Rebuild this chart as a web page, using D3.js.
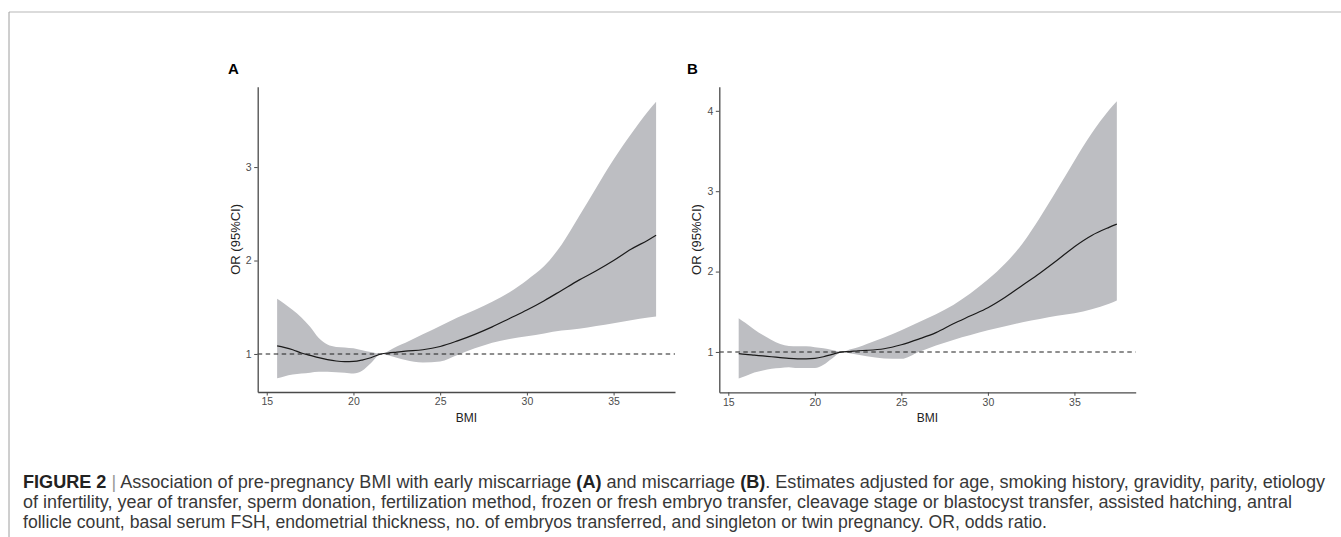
<!DOCTYPE html>
<html lang="en">
<head>
    <meta charset="UTF-8">
    <title>BMI and miscarriage - restricted cubic spline</title>
    <script src="https://d3js.org/d3.v7.min.js"></script>
    <style>
        body {
            margin: 0;
            background: #fff;
            font-family: 'Liberation Sans', Arial, sans-serif;
        }
        .tick text {
            font-size: 10.5px;
            fill: #4d4d4d;
        }
        .tick line, .domain {
            stroke: #4a4a4a;
        }
        .domain {
            stroke-width: 1.3;
        }
        .caption {
            font-size: 17.5px;
            fill: #383838;
        }
    </style>
</head>
<body>
    <div id="chart"></div>

    <script>
        // BMI grid the spline estimates were read at
        const bmi = [15.6, 16, 16.5, 17, 17.5, 18, 18.5, 19, 19.5, 20, 20.5, 21, 21.6, 22, 22.5, 23,
                     24, 25, 26, 27, 28, 29, 30, 31, 32, 33, 34, 35, 36, 37, 37.45];

        // Panel A: early miscarriage
        const orA  = [1.086, 1.07, 1.045, 1.01, 0.985, 0.96, 0.94, 0.925, 0.918, 0.92, 0.935, 0.96, 1.0, 1.01, 1.02, 1.03,
                      1.045, 1.08, 1.14, 1.21, 1.29, 1.38, 1.47, 1.57, 1.68, 1.79, 1.89, 2.0, 2.12, 2.22, 2.27];
        const lowA = [0.74, 0.76, 0.78, 0.79, 0.80, 0.81, 0.81, 0.805, 0.80, 0.79, 0.82, 0.90, 1.0, 0.985, 0.96, 0.935,
                      0.91, 0.92, 0.99, 1.06, 1.12, 1.16, 1.19, 1.22, 1.25, 1.27, 1.30, 1.33, 1.36, 1.39, 1.40];
        const upA  = [1.59, 1.54, 1.47, 1.39, 1.29, 1.17, 1.10, 1.075, 1.07, 1.06, 1.04, 1.02, 1.0, 1.03, 1.08, 1.12,
                      1.21, 1.30, 1.39, 1.47, 1.56, 1.66, 1.79, 1.94, 2.17, 2.47, 2.78, 3.08, 3.35, 3.60, 3.70];

        // Panel B: miscarriage
        const orB  = [0.98, 0.97, 0.96, 0.95, 0.94, 0.93, 0.92, 0.915, 0.915, 0.92, 0.94, 0.97, 1.0, 1.005, 1.015, 1.02,
                      1.04, 1.09, 1.16, 1.24, 1.35, 1.45, 1.55, 1.68, 1.83, 1.98, 2.14, 2.31, 2.45, 2.55, 2.59];
        const lowB = [0.67, 0.70, 0.745, 0.77, 0.79, 0.80, 0.81, 0.80, 0.80, 0.80, 0.84, 0.92, 1.0, 0.985, 0.965, 0.945,
                      0.92, 0.915, 1.0, 1.08, 1.15, 1.21, 1.27, 1.32, 1.37, 1.41, 1.45, 1.48, 1.53, 1.60, 1.64];
        const upB  = [1.42, 1.36, 1.28, 1.21, 1.15, 1.10, 1.075, 1.07, 1.07, 1.06, 1.045, 1.025, 1.0, 1.03, 1.06, 1.10,
                      1.18, 1.27, 1.37, 1.47, 1.585, 1.73, 1.90, 2.10, 2.35, 2.67, 3.02, 3.38, 3.72, 4.01, 4.12];

        const xTicks = [15, 20, 25, 30, 35];
        const yTicksA = [1, 2, 3];
        const yTicksB = [1, 2, 3, 4];

        const captionLines = [
            [["FIGURE 2", "b"], [" | ", "sep"], ["Association of pre-pregnancy BMI with early miscarriage ", ""], ["(A)", "b"],
             [" and miscarriage ", ""], ["(B)", "b"], [". Estimates adjusted for age, smoking history, gravidity, parity, etiology", ""]],
            [["of infertility, year of transfer, sperm donation, fertilization method, frozen or fresh embryo transfer, cleavage stage or blastocyst transfer, assisted hatching, antral", ""]],
            [["follicle count, basal serum FSH, endometrial thickness, no. of embryos transferred, and singleton or twin pregnancy. OR, odds ratio.", ""]]
        ];

        const W = 1341, H = 537;
        const svg = d3.select("#chart").append("svg")
            .attr("width", W)
            .attr("height", H);

        // page frame
        svg.append("line")
            .attr("x1", 9).attr("x2", W).attr("y1", 12).attr("y2", 12)
            .attr("stroke", "#cfcfcf").attr("stroke-width", 1.5);
        svg.append("line")
            .attr("x1", 9).attr("x2", 9).attr("y1", 12).attr("y2", H)
            .attr("stroke", "#9e9e9e").attr("stroke-width", 1);

        const panels = [
            { label: "A", labelX: 228, left: 257.7, right: 675, top: 86.7, bottom: 392,
              yDomain: [0.593, 3.86], yTicks: yTicksA, or: orA, lo: lowA, hi: upA },
            { label: "B", labelX: 687, left: 719.3, right: 1135.7, top: 86.7, bottom: 392.3,
              yDomain: [0.498, 4.30], yTicks: yTicksB, or: orB, lo: lowB, hi: upB }
        ];

        panels.forEach(p => {
            const x = d3.scaleLinear().domain([14.48, 38.54]).range([p.left, p.right]);
            const y = d3.scaleLinear().domain(p.yDomain).range([p.bottom, p.top]);
            const rows = bmi.map((b, i) => ({ b: b, or: p.or[i], lo: p.lo[i], hi: p.hi[i] }));
            const g = svg.append("g");

            g.append("path")
                .datum(rows)
                .attr("fill", "#bdbec2")
                .attr("d", d3.area()
                    .x(d => x(d.b))
                    .y0(d => y(d.lo))
                    .y1(d => y(d.hi))
                    .curve(d3.curveMonotoneX));

            g.append("path")
                .datum(rows)
                .attr("fill", "none")
                .attr("stroke", "#1a1a1a")
                .attr("stroke-width", 1.2)
                .attr("d", d3.line()
                    .x(d => x(d.b))
                    .y(d => y(d.or))
                    .curve(d3.curveMonotoneX));

            // reference line at OR = 1
            g.append("line")
                .attr("x1", p.left).attr("x2", p.right)
                .attr("y1", y(1)).attr("y2", y(1))
                .attr("stroke", "#1f1f1f")
                .attr("stroke-width", 1.1)
                .attr("stroke-dasharray", "4.5,3.5");

            g.append("g")
                .attr("transform", `translate(0,${p.bottom})`)
                .call(d3.axisBottom(x).tickValues(xTicks).tickFormat(d3.format("d"))
                    .tickSize(3.5).tickSizeOuter(0).tickPadding(2.5));

            g.append("g")
                .attr("transform", `translate(${p.left},0)`)
                .call(d3.axisLeft(y).tickValues(p.yTicks).tickFormat(d3.format("d"))
                    .tickSize(3.5).tickSizeOuter(0).tickPadding(2.5));

            g.selectAll(".tick text").attr("font-family", "'Liberation Sans', Arial, sans-serif");

            g.append("text")
                .attr("transform", `translate(${p.left - 22.6},${(p.top + p.bottom) / 2}) rotate(-90)`)
                .attr("dy", "0.35em")
                .attr("text-anchor", "middle")
                .attr("font-size", "13px")
                .attr("fill", "#222")
                .text("OR (95%CI)");

            g.append("text")
                .attr("x", (p.left + p.right) / 2)
                .attr("y", 422)
                .attr("text-anchor", "middle")
                .attr("font-size", "12px")
                .attr("fill", "#222")
                .text("BMI");

            g.append("text")
                .attr("x", p.labelX)
                .attr("y", 74)
                .attr("font-size", "15px")
                .attr("font-weight", "bold")
                .attr("fill", "#000")
                .text(p.label);
        });

        // caption, three lines fitted to the width they take in the figure
        const capX = 23;
        const capBase = [488, 508, 528];
        const capEnds = [1325, 1292, 1047];
        capEnds.forEach((end, i) => {
            const t = svg.append("text")
                .attr("class", "caption")
                .attr("x", capX)
                .attr("y", capBase[i])
                .attr("textLength", end - capX)
                .attr("lengthAdjust", "spacingAndGlyphs");
            captionLines[i].forEach(([s, kind]) => {
                const ts = t.append("tspan").text(s);
                if (kind === "b") ts.attr("font-weight", "bold").attr("fill", "#222");
                if (kind === "sep") ts.attr("fill", "#999");
            });
        });
    </script>
</body>
</html>
